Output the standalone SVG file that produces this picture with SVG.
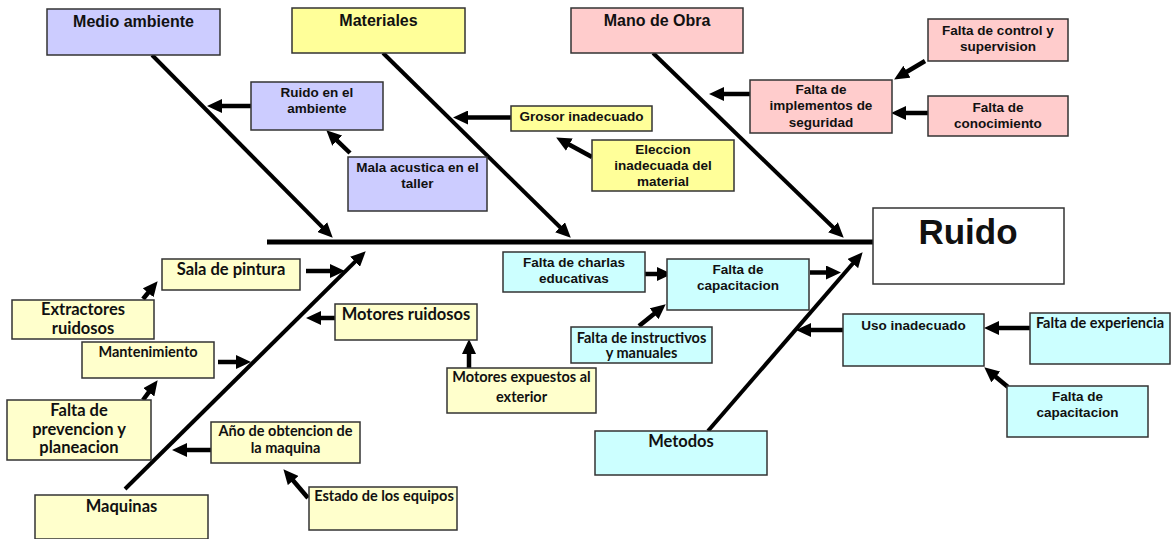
<svg xmlns="http://www.w3.org/2000/svg" width="1172" height="539" viewBox="0 0 1172 539">
<style>
.box{stroke:#333;stroke-width:1.5}
.p{fill:#CCCCFF}.y{fill:#FFFF99}.ly{fill:#FFFFCC}.r{fill:#FFCCCC}.c{fill:#CCFFFF}.w{fill:#FFFFFF}
text{font-weight:bold;fill:#111;text-anchor:middle}
.a{font-family:"Liberation Sans",Arial,sans-serif;font-size:13.5px}
.h{font-family:"Liberation Sans",Arial,sans-serif;font-size:16px}
.k{font-family:Lato,"Liberation Sans",sans-serif;font-size:14.5px}
.kb{font-family:Lato,"Liberation Sans",sans-serif;font-size:16.5px}
.bone{stroke:#000;stroke-width:4;fill:none;marker-end:url(#ah)}
.sub{stroke:#000;stroke-width:4.5;fill:none;marker-end:url(#ah)}
</style>
<defs>
<marker id="ah" markerUnits="userSpaceOnUse" markerWidth="15" markerHeight="14" refX="3" refY="7" orient="auto">
<path d="M0,0 L15,7 L0,14 z" fill="#000"/>
</marker>
</defs>
<rect width="1172" height="539" fill="#fff"/>

<g id="connectors">
<line x1="267" y1="242" x2="873" y2="242" stroke="#000" stroke-width="5"/>
<line class="bone" x1="152" y1="55" x2="324.3" y2="229.2"/>
<line class="bone" x1="383" y1="53" x2="562.2" y2="229.3"/>
<line class="bone" x1="653" y1="53" x2="835.1" y2="229.3"/>
<line class="bone" x1="125" y1="489" x2="357.2" y2="259.7"/>
<line class="bone" x1="708" y1="431" x2="854.8" y2="261.3"/>
<line class="sub" x1="251" y1="106" x2="219" y2="106"/>
<line class="sub" x1="350" y1="153" x2="335" y2="138.6"/>
<line class="sub" x1="511" y1="117.5" x2="465" y2="117.5"/>
<line class="sub" x1="592" y1="157" x2="566.7" y2="143.2"/>
<line class="sub" x1="750" y1="94" x2="721" y2="94"/>
<line class="sub" x1="925" y1="61" x2="904.4" y2="73.3"/>
<line class="sub" x1="928" y1="113" x2="903" y2="113"/>
<line class="sub" x1="306" y1="271" x2="333" y2="271"/>
<line class="sub" x1="143" y1="299" x2="150" y2="290.5"/>
<line class="sub" x1="218" y1="362" x2="239" y2="362"/>
<line class="sub" x1="143" y1="400" x2="150.5" y2="389.9"/>
<line class="sub" x1="211" y1="450" x2="184" y2="450"/>
<line class="sub" x1="308" y1="498" x2="291.2" y2="478.3"/>
<line class="sub" x1="335" y1="318" x2="318" y2="318"/>
<line class="sub" x1="469" y1="368" x2="469" y2="351"/>
<line class="sub" x1="644" y1="274" x2="660" y2="274"/>
<line class="sub" x1="639" y1="326" x2="656.4" y2="311.9"/>
<line class="sub" x1="810" y1="272.5" x2="829" y2="272.5"/>
<line class="sub" x1="843" y1="330" x2="808" y2="330"/>
<line class="sub" x1="1030" y1="328" x2="996" y2="328"/>
<line class="sub" x1="1008" y1="387" x2="993.5" y2="375"/>
</g>

<g id="medio-ambiente"><rect class="box p" x="47" y="9" width="173" height="46"/><text class="h" x="133.5" y="27">Medio ambiente</text></g>
<g id="materiales"><rect class="box y" x="292" y="8" width="173" height="45"/><text class="h" x="378.5" y="26">Materiales</text></g>
<g id="mano-de-obra"><rect class="box r" x="571" y="8" width="172" height="45"/><text class="h" x="657" y="26">Mano de Obra</text></g>

<g id="ruido-ambiente"><rect class="box p" x="251" y="82" width="132" height="48"/><text class="a" x="317" y="97">Ruido en el</text><text class="a" x="317" y="113">ambiente</text></g>
<g id="mala-acustica"><rect class="box p" x="348" y="157" width="139" height="54"/><text class="a" x="417.5" y="172">Mala acustica en el</text><text class="a" x="417.5" y="188">taller</text></g>
<g id="grosor"><rect class="box y" x="511" y="106" width="141" height="25"/><text class="a" x="581.5" y="121">Grosor inadecuado</text></g>
<g id="eleccion"><rect class="box y" x="592" y="140" width="142" height="51"/><text class="a" x="663" y="154">Eleccion</text><text class="a" x="663" y="170">inadecuada del</text><text class="a" x="663" y="186">material</text></g>
<g id="implementos"><rect class="box r" x="750" y="80" width="142" height="53"/><text class="a" x="821" y="94">Falta de</text><text class="a" x="821" y="110">implementos de</text><text class="a" x="821" y="127">seguridad</text></g>
<g id="control"><rect class="box r" x="928" y="19" width="140" height="42"/><text class="a" x="998" y="35">Falta de control y</text><text class="a" x="998" y="51">supervision</text></g>
<g id="conocimiento"><rect class="box r" x="928" y="96" width="140" height="40"/><text class="a" x="998" y="112">Falta de</text><text class="a" x="998" y="128">conocimiento</text></g>

<g id="ruido"><rect class="box w" x="873" y="208" width="191" height="76"/><text x="968" y="244" style="font-family:'Liberation Sans',Arial,sans-serif;font-size:35px">Ruido</text></g>

<g id="sala-pintura"><rect class="box ly" x="162" y="259" width="138" height="31"/><text class="kb" x="231" y="275">Sala de pintura</text></g>
<g id="extractores"><rect class="box ly" x="12" y="300" width="142" height="39"/><text class="kb" x="83" y="315">Extractores</text><text class="kb" x="83" y="334">ruidosos</text></g>
<g id="mantenimiento"><rect class="box ly" x="82" y="342" width="132" height="36"/><text class="k" x="148" y="357">Mantenimiento</text></g>
<g id="prevencion"><rect class="box ly" x="7" y="400" width="144" height="60"/><text class="kb" x="79" y="416">Falta de</text><text class="kb" x="79" y="434.5">prevencion y</text><text class="kb" x="79" y="453">planeacion</text></g>
<g id="maquinas"><rect class="box ly" x="35" y="495" width="173" height="44"/><text class="kb" x="121.5" y="512">Maquinas</text></g>
<g id="ano-obtencion"><rect class="box ly" x="211" y="422" width="149" height="41"/><text class="k" x="285.5" y="436">Año de obtencion de</text><text class="k" x="285.5" y="453">la maquina</text></g>
<g id="estado-equipos"><rect class="box ly" x="309" y="487" width="148" height="43"/><text class="k" x="384" y="501">Estado de los equipos</text></g>
<g id="motores-ruidosos"><rect class="box ly" x="335" y="304" width="142" height="36"/><text class="kb" x="406" y="320">Motores ruidosos</text></g>
<g id="motores-expuestos"><rect class="box ly" x="447" y="368" width="149" height="45"/><text class="k" x="521.5" y="382">Motores expuestos al</text><text class="k" x="521.5" y="402">exterior</text></g>

<g id="charlas"><rect class="box c" x="503" y="252" width="142" height="40"/><text class="a" x="574" y="267">Falta de charlas</text><text class="a" x="574" y="283">educativas</text></g>
<g id="capacitacion-mid"><rect class="box c" x="667" y="259" width="142" height="51"/><text class="a" x="738" y="274">Falta de</text><text class="a" x="738" y="290">capacitacion</text></g>
<g id="instructivos"><rect class="box c" x="571" y="327" width="141" height="36"/><text class="k" x="641.5" y="343">Falta de instructivos</text><text class="k" x="641.5" y="358">y manuales</text></g>
<g id="metodos"><rect class="box c" x="595" y="431" width="172" height="44"/><text class="kb" x="681" y="447">Metodos</text></g>
<g id="uso-inadecuado"><rect class="box c" x="843" y="314" width="141" height="52"/><text class="a" x="913.5" y="330">Uso inadecuado</text></g>
<g id="experiencia"><rect class="box c" x="1030" y="313" width="140" height="51"/><text class="k" x="1100" y="328">Falta de experiencia</text></g>
<g id="capacitacion-right"><rect class="box c" x="1007" y="386" width="141" height="51"/><text class="a" x="1077.5" y="401">Falta de</text><text class="a" x="1077.5" y="417">capacitacion</text></g>
</svg>
